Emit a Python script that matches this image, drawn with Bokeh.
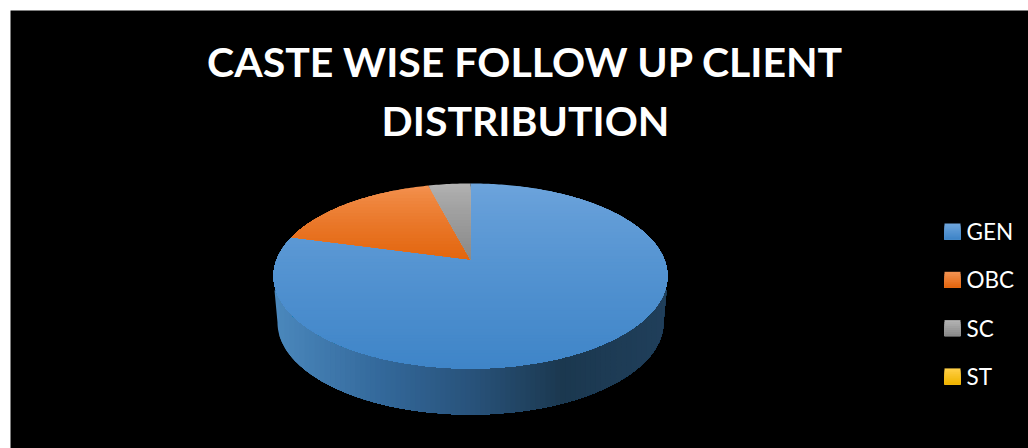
import math
from bokeh.plotting import figure
from bokeh.models import Range1d
from bokeh.embed import file_html
from bokeh.resources import INLINE
from bokeh.core.properties import value

# ---- data ----
categories = ["GEN", "OBC", "SC", "ST"]
shares = [79.2, 16.7, 4.1, 0.0]
title_lines = ["CASTE WISE FOLLOW UP CLIENT", "DISTRIBUTION"]

# ---- style / layout ----
top_colors = ["#6DA4DC", "#F3914F", "#B2B2B2", "#FFCF45"]
bottom_colors = ["#3F85C8", "#E3660F", "#8A8A8A", "#F0B400"]
CX, APEX_Y, A, B, S = 470.0, 259.0, 193.8, 89.6, 0.178
WALL_CY, WALL_RX, WALL_RY = 322.0, 193.0, 92.0
WALL_SHOULDER_Y, WALL_SHOULDER_RX = 290.0, 196.0
wall_stops = [(274, "#4A87BC"), (380, "#33689A"), (470, "#28527A"),
              (560, "#1B384F"), (666, "#203F5B")]


def rgb(h):
    return [int(h[i:i + 2], 16) for i in (1, 3, 5)]


def mix(c1, c2, t):
    t = max(0.0, min(1.0, t))
    a, b = rgb(c1), rgb(c2)
    return "#%02x%02x%02x" % tuple(round(a[i] + (b[i] - a[i]) * t) for i in range(3))


def project(theta):
    w = 1 + S * math.cos(theta)
    return CX + A * math.sin(theta) / w, APEX_Y - B * math.cos(theta) / w


def clip(poly, limit, axis):
    out = []
    n = len(poly)
    for i in range(n):
        p, q = poly[i], poly[(i + 1) % n]
        pin, qin = p[axis] >= limit, q[axis] >= limit
        if pin:
            out.append(p)
        if pin != qin:
            t = (limit - p[axis]) / (q[axis] - p[axis])
            out.append((p[0] + (q[0] - p[0]) * t, p[1] + (q[1] - p[1]) * t))
    return out


p = figure(width=1028, height=448, output_backend="svg", toolbar_location=None,
           x_range=Range1d(0, 1028), y_range=Range1d(448, 0),
           x_axis_location=None, y_axis_location=None, min_border=0,
           outline_line_color=None, background_fill_color="white",
           border_fill_color="white")
p.grid.visible = False

p.quad(left=[10], right=[1028], top=[10], bottom=[448], fill_color="black", line_color=None)

xs, ys, cs = [], [], []


def add(poly, col):
    if len(poly) >= 3:
        xs.append([q[0] for q in poly])
        ys.append([q[1] for q in poly])
        cs.append(col)


# side wall: horizontal shading, painted left to right with overlap
wall = [(CX + WALL_SHOULDER_RX, WALL_SHOULDER_Y)]
wall += [(CX + WALL_RX * math.cos(math.pi * i / 180),
          WALL_CY + WALL_RY * math.sin(math.pi * i / 180)) for i in range(181)]
wall += [(CX - WALL_SHOULDER_RX, WALL_SHOULDER_Y)]
x0 = wall_stops[0][0]
for (xa, ca), (xb, cb) in zip(wall_stops, wall_stops[1:]):
    n = max(1, int((xb - xa) / 5))
    for k in range(n):
        add(clip(wall, xa + (xb - xa) * k / n if (xa, k) != (x0, 0) else 0, 0), mix(ca, cb, k / n))

# top surface: one slice per category, vertical shading
total = sum(shares)
start = 0.0
for share, c0, c1 in zip(shares, top_colors, bottom_colors):
    sweep = 2 * math.pi * share / total
    if sweep > 0:
        steps = max(2, int(share * 4))
        poly = [(CX, APEX_Y)] + [project(start + sweep * i / steps) for i in range(steps + 1)]
        lo = min(q[1] for q in poly)
        hi = max(q[1] for q in poly)
        n = max(4, int((hi - lo) / 3))
        for k in range(n):
            y = lo + (hi - lo) * k / n
            add(clip(poly, y if k else lo - 1, 1), mix(c0, c1, (k / (n - 1)) ** 0.8))
    start += sweep

# legend swatches
for i, (c0, c1) in enumerate(zip(top_colors, bottom_colors)):
    t = 223 + 48.3 * i
    sq = [(944, t), (960, t), (960, t + 16), (944, t + 16)]
    for k in range(8):
        add(clip(sq, t + 2 * k if k else t - 1, 1), mix(c0, c1, k / 7))

p.patches(xs, ys, fill_color=cs, line_color=None)

p.text(x=[525, 525], y=[61, 120], text=title_lines, text_color="white",
       text_font=value("Lato"), text_font_style="bold", text_font_size="41px",
       text_align="center", text_baseline="middle")
p.text(x=[966] * 4, y=[231 + 48.3 * i for i in range(4)], text=categories,
       text_color="white", text_font=value("Lato"), text_font_size="22.5px",
       text_align="left", text_baseline="middle")

open("out.html", "w").write(file_html(p, INLINE))
